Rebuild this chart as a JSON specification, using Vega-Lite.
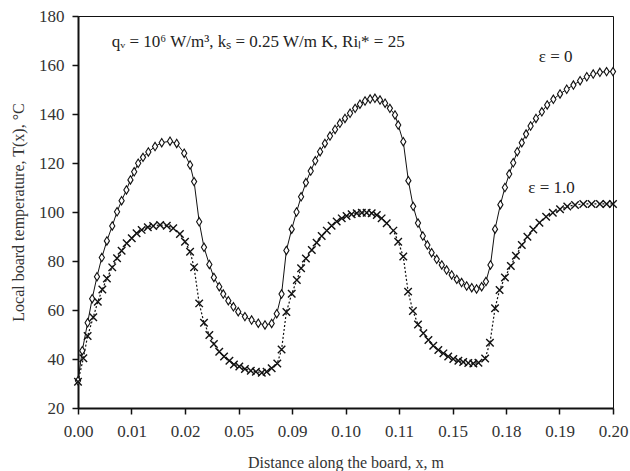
{
  "$schema": "https://vega.github.io/schema/vega-lite/v6.json",
  "width": 535,
  "height": 392,
  "autosize": "none",
  "padding": {"left": 78, "top": 16, "right": 17, "bottom": 63},
  "background": "white",
  "config": {
    "view": {"stroke": "#111", "strokeWidth": 1},
    "font": "Liberation Serif",
    "axis": {"grid": false, "labelFont": "Liberation Serif", "titleFont": "Liberation Serif", "labelFontSize": 17, "titleFontSize": 16, "titleFontWeight": "normal", "labelColor": "#333", "titleColor": "#333", "domainColor": "#111", "domainWidth": 2, "tickColor": "#111", "tickWidth": 1.5, "tickSize": 6}
  },
  "datasets": {
    "e0": [
      {"x": 0.0000, "T": 31.1}, {"x": 0.0016, "T": 43.4}, {"x": 0.0036, "T": 54.8}, {"x": 0.0053, "T": 64.6},
      {"x": 0.0071, "T": 73.6}, {"x": 0.0089, "T": 81.4}, {"x": 0.0108, "T": 88.2}, {"x": 0.0128, "T": 94.3},
      {"x": 0.0146, "T": 100.1}, {"x": 0.0163, "T": 104.6}, {"x": 0.0181, "T": 109.0}, {"x": 0.0196, "T": 113.1},
      {"x": 0.0210, "T": 116.4}, {"x": 0.0225, "T": 119.9}, {"x": 0.0243, "T": 122.3}, {"x": 0.0263, "T": 124.5},
      {"x": 0.0288, "T": 126.7}, {"x": 0.0313, "T": 128.3}, {"x": 0.0344, "T": 128.9}, {"x": 0.0369, "T": 128.0},
      {"x": 0.0397, "T": 124.0}, {"x": 0.0419, "T": 119.2}, {"x": 0.0434, "T": 112.4}, {"x": 0.0453, "T": 96.0},
      {"x": 0.0471, "T": 85.6}, {"x": 0.0491, "T": 78.6}, {"x": 0.0508, "T": 73.3}, {"x": 0.0528, "T": 69.5},
      {"x": 0.0543, "T": 66.5}, {"x": 0.0562, "T": 63.8}, {"x": 0.0581, "T": 61.3}, {"x": 0.0599, "T": 59.3},
      {"x": 0.0624, "T": 57.3}, {"x": 0.0649, "T": 55.9}, {"x": 0.0674, "T": 54.6}, {"x": 0.0699, "T": 53.9},
      {"x": 0.0724, "T": 54.5}, {"x": 0.0743, "T": 58.5}, {"x": 0.0761, "T": 66.5}, {"x": 0.0779, "T": 84.3},
      {"x": 0.0799, "T": 93.0}, {"x": 0.0817, "T": 100.0}, {"x": 0.0834, "T": 106.2}, {"x": 0.0852, "T": 112.0},
      {"x": 0.0870, "T": 116.7}, {"x": 0.0887, "T": 120.9}, {"x": 0.0905, "T": 124.6}, {"x": 0.0923, "T": 128.0},
      {"x": 0.0942, "T": 131.0}, {"x": 0.0961, "T": 133.7}, {"x": 0.0979, "T": 136.2}, {"x": 0.0998, "T": 138.2},
      {"x": 0.1017, "T": 140.3}, {"x": 0.1036, "T": 142.3}, {"x": 0.1054, "T": 144.0}, {"x": 0.1073, "T": 145.3},
      {"x": 0.1092, "T": 146.1}, {"x": 0.1110, "T": 146.4}, {"x": 0.1129, "T": 145.7}, {"x": 0.1148, "T": 144.4},
      {"x": 0.1166, "T": 142.3}, {"x": 0.1185, "T": 139.6}, {"x": 0.1197, "T": 135.5}, {"x": 0.1216, "T": 128.7},
      {"x": 0.1235, "T": 112.8}, {"x": 0.1253, "T": 102.3}, {"x": 0.1271, "T": 95.5}, {"x": 0.1289, "T": 90.2},
      {"x": 0.1306, "T": 86.5}, {"x": 0.1322, "T": 83.4}, {"x": 0.1341, "T": 80.7}, {"x": 0.1360, "T": 78.4},
      {"x": 0.1378, "T": 76.3}, {"x": 0.1397, "T": 74.3}, {"x": 0.1416, "T": 72.5}, {"x": 0.1434, "T": 71.2},
      {"x": 0.1453, "T": 69.8}, {"x": 0.1472, "T": 69.1}, {"x": 0.1490, "T": 68.6}, {"x": 0.1509, "T": 69.5},
      {"x": 0.1525, "T": 71.6}, {"x": 0.1542, "T": 78.4}, {"x": 0.1559, "T": 93.0}, {"x": 0.1579, "T": 103.0},
      {"x": 0.1596, "T": 110.0}, {"x": 0.1612, "T": 115.5}, {"x": 0.1627, "T": 120.1}, {"x": 0.1642, "T": 124.6},
      {"x": 0.1659, "T": 128.3}, {"x": 0.1675, "T": 131.8}, {"x": 0.1692, "T": 135.1}, {"x": 0.1712, "T": 138.2},
      {"x": 0.1734, "T": 140.9}, {"x": 0.1754, "T": 143.7}, {"x": 0.1777, "T": 146.0}, {"x": 0.1802, "T": 148.2},
      {"x": 0.1827, "T": 150.1}, {"x": 0.1852, "T": 151.8}, {"x": 0.1877, "T": 153.6}, {"x": 0.1902, "T": 155.2},
      {"x": 0.1926, "T": 156.3}, {"x": 0.1951, "T": 157.0}, {"x": 0.1976, "T": 157.3}, {"x": 0.2000, "T": 157.3}
    ],
    "e1": [
      {"x": 0.0000, "T": 30.7}, {"x": 0.0020, "T": 40.3}, {"x": 0.0036, "T": 49.4}, {"x": 0.0057, "T": 57.0},
      {"x": 0.0074, "T": 63.4}, {"x": 0.0091, "T": 68.4}, {"x": 0.0108, "T": 72.9}, {"x": 0.0128, "T": 77.4},
      {"x": 0.0146, "T": 81.1}, {"x": 0.0163, "T": 84.2}, {"x": 0.0182, "T": 87.2}, {"x": 0.0201, "T": 89.3},
      {"x": 0.0219, "T": 91.3}, {"x": 0.0238, "T": 92.7}, {"x": 0.0261, "T": 93.8}, {"x": 0.0281, "T": 94.3},
      {"x": 0.0307, "T": 94.7}, {"x": 0.0332, "T": 94.4}, {"x": 0.0356, "T": 93.4}, {"x": 0.0381, "T": 91.0},
      {"x": 0.0400, "T": 87.9}, {"x": 0.0419, "T": 83.8}, {"x": 0.0434, "T": 77.4}, {"x": 0.0453, "T": 62.7},
      {"x": 0.0471, "T": 54.8}, {"x": 0.0491, "T": 49.8}, {"x": 0.0508, "T": 46.1}, {"x": 0.0528, "T": 43.0},
      {"x": 0.0546, "T": 41.0}, {"x": 0.0566, "T": 39.3}, {"x": 0.0583, "T": 37.8}, {"x": 0.0603, "T": 36.9},
      {"x": 0.0624, "T": 35.9}, {"x": 0.0646, "T": 35.2}, {"x": 0.0665, "T": 34.8}, {"x": 0.0687, "T": 34.4},
      {"x": 0.0705, "T": 34.8}, {"x": 0.0724, "T": 36.2}, {"x": 0.0745, "T": 38.2}, {"x": 0.0761, "T": 43.9},
      {"x": 0.0779, "T": 59.2}, {"x": 0.0799, "T": 66.6}, {"x": 0.0818, "T": 72.2}, {"x": 0.0834, "T": 77.0},
      {"x": 0.0852, "T": 81.0}, {"x": 0.0874, "T": 84.5}, {"x": 0.0892, "T": 87.5}, {"x": 0.0911, "T": 90.2},
      {"x": 0.0930, "T": 92.4}, {"x": 0.0948, "T": 94.4}, {"x": 0.0967, "T": 96.1}, {"x": 0.0986, "T": 97.4},
      {"x": 0.1004, "T": 98.4}, {"x": 0.1023, "T": 99.1}, {"x": 0.1042, "T": 99.5}, {"x": 0.1061, "T": 99.7},
      {"x": 0.1079, "T": 99.7}, {"x": 0.1098, "T": 99.5}, {"x": 0.1117, "T": 98.8}, {"x": 0.1135, "T": 97.4},
      {"x": 0.1154, "T": 95.4}, {"x": 0.1179, "T": 92.4}, {"x": 0.1197, "T": 87.9}, {"x": 0.1216, "T": 81.8},
      {"x": 0.1234, "T": 67.5}, {"x": 0.1252, "T": 59.6}, {"x": 0.1271, "T": 54.1}, {"x": 0.1291, "T": 50.5},
      {"x": 0.1310, "T": 47.8}, {"x": 0.1328, "T": 45.4}, {"x": 0.1347, "T": 43.7}, {"x": 0.1366, "T": 42.3},
      {"x": 0.1384, "T": 41.0}, {"x": 0.1403, "T": 40.0}, {"x": 0.1422, "T": 39.3}, {"x": 0.1440, "T": 38.8},
      {"x": 0.1459, "T": 38.4}, {"x": 0.1478, "T": 38.2}, {"x": 0.1497, "T": 38.5}, {"x": 0.1522, "T": 40.2},
      {"x": 0.1540, "T": 46.6}, {"x": 0.1559, "T": 60.7}, {"x": 0.1576, "T": 68.2}, {"x": 0.1596, "T": 73.3},
      {"x": 0.1618, "T": 78.0}, {"x": 0.1637, "T": 82.1}, {"x": 0.1659, "T": 86.5}, {"x": 0.1680, "T": 89.9},
      {"x": 0.1702, "T": 92.9}, {"x": 0.1725, "T": 95.6}, {"x": 0.1750, "T": 98.1}, {"x": 0.1775, "T": 99.7},
      {"x": 0.1802, "T": 101.1}, {"x": 0.1829, "T": 102.2}, {"x": 0.1858, "T": 102.9}, {"x": 0.1889, "T": 103.3},
      {"x": 0.1920, "T": 103.3}, {"x": 0.1951, "T": 103.3}, {"x": 0.1976, "T": 103.3}, {"x": 0.2000, "T": 103.3}
    ],
    "noteLeft": [
      {"x": 0.0126, "T": 169.2, "label": "qᵥ = 10⁶ W/m³, kₛ = 0.25 W/m K, Riₗ* = 25"}
    ],
    "noteRight": [
      {"x": 0.1849, "T": 163.4, "label": "ε = 0"},
      {"x": 0.1857, "T": 109.7, "label": "ε = 1.0"}
    ]
  },
  "encoding": {
    "x": {"field": "x", "type": "quantitative", "scale": {"domain": [0, 0.2], "nice": false, "zero": false},
      "axis": {"title": "Distance along the board, x, m", "values": [0, 0.02, 0.04, 0.06, 0.08, 0.1, 0.12, 0.14, 0.16, 0.18, 0.2],
        "labelExpr": "['0.00','0.01','0.02','0.05','0.09','0.10','0.11','0.15','0.18','0.19','0.20'][round(datum.value*50)]",
        "labelPadding": 9, "titlePadding": 15, "labelFlush": false}},
    "y": {"field": "T", "type": "quantitative", "scale": {"domain": [20, 180], "nice": false, "zero": false},
      "axis": {"title": "Local board temperature, T(x), °C", "values": [20, 40, 60, 80, 100, 120, 140, 160, 180], "labelPadding": 8, "titlePadding": 12}}
  },
  "layer": [
    {"data": {"name": "e0"}, "mark": {"type": "line", "color": "#111", "strokeWidth": 1}},
    {"data": {"name": "e1"}, "mark": {"type": "line", "color": "#111", "strokeWidth": 1.2, "strokeDash": [2, 2]}},
    {"data": {"name": "e0"}, "mark": {"type": "point", "shape": "M0,-1L0.62,0L0,1L-0.62,0Z", "size": 70, "filled": true, "fill": "white", "stroke": "#111", "strokeWidth": 1.1, "opacity": 1}},
    {"data": {"name": "e1"}, "mark": {"type": "point", "shape": "M-1,-1L1,1M1,-1L-1,1", "size": 56, "filled": false, "stroke": "#111", "strokeWidth": 1.4, "opacity": 1}},
    {"data": {"name": "noteLeft"}, "mark": {"type": "text", "font": "Liberation Serif", "fontSize": 17, "color": "#222", "baseline": "middle", "align": "left"},
      "encoding": {"text": {"field": "label"}}},
    {"data": {"name": "noteRight"}, "mark": {"type": "text", "font": "Liberation Serif", "fontSize": 17, "color": "#222", "baseline": "middle", "align": "right"},
      "encoding": {"text": {"field": "label"}}}
  ]
}
